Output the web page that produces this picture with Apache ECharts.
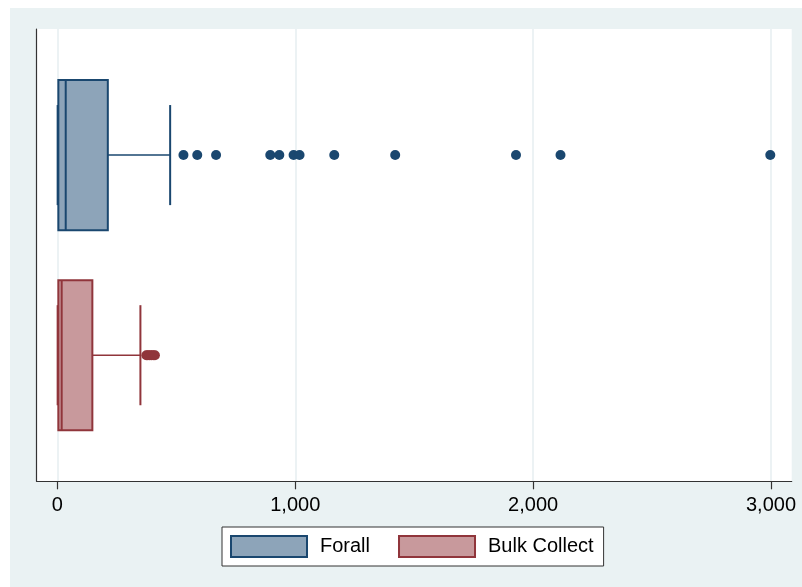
<!DOCTYPE html>
<html>
<head>
<meta charset="utf-8">
<script src="https://cdn.jsdelivr.net/npm/echarts@6/dist/echarts.min.js"></script>
<style>
html,body{margin:0;padding:0;background:#fff;}
#chart{width:802px;height:587px;}
</style>
</head>
<body>
<div id="chart"></div>
<script>
// ---- data ----
const groups = ['Forall', 'Bulk Collect'];
// [lower adjacent, q1, median, q3, upper adjacent]
const forallStats = [0, 4, 35, 212, 474];
const bulkStats = [0, 4, 18, 147, 349];
const forallOutliers = [530, 588, 667, 895, 933, 993, 1018, 1164, 1420, 1928, 2115, 2997];
const bulkOutliers = [374, 380, 388, 395, 403, 410];
const xTicks = [0, 1000, 2000, 3000];

const navy = '#1a476f', navyFill = '#8da4b9';
const maroon = '#90353b', maroonFill = '#c8999c';
const FONT = '"Liberation Sans", Arial, sans-serif';

const chart = echarts.init(document.getElementById('chart'));

function boxRender(stroke, fill) {
  return function (params, api) {
    const y = api.value(0);
    const mn = api.value(1), q1 = api.value(2), md = api.value(3), q3 = api.value(4), mx = api.value(5);
    const hb = 0.375, hc = 0.25;
    const a = api.coord([q1, y - hb]), b = api.coord([q3, y + hb]);
    const top = Math.min(a[1], b[1]), bot = Math.max(a[1], b[1]);
    const cy = api.coord([0, y])[1];
    const capTop = Math.min(api.coord([0, y - hc])[1], api.coord([0, y + hc])[1]);
    const capBot = Math.max(api.coord([0, y - hc])[1], api.coord([0, y + hc])[1]);
    const xmn = api.coord([mn, y])[0], xmx = api.coord([mx, y])[0], xmd = api.coord([md, y])[0];
    const lineStyle = (w) => ({ stroke: stroke, lineWidth: w, fill: null });
    return {
      type: 'group',
      children: [
        { type: 'line', shape: { x1: b[0], y1: cy, x2: xmx, y2: cy }, style: lineStyle(1.5) },
        { type: 'line', shape: { x1: xmn, y1: cy, x2: a[0], y2: cy }, style: lineStyle(1.5) },
        { type: 'line', shape: { x1: xmx, y1: capTop, x2: xmx, y2: capBot }, style: lineStyle(2) },
        { type: 'line', shape: { x1: xmn, y1: capTop, x2: xmn, y2: capBot }, style: lineStyle(1.5) },
        { type: 'rect', shape: { x: a[0], y: top, width: b[0] - a[0], height: bot - top },
          style: { fill: fill, stroke: stroke, lineWidth: 2 } },
        { type: 'line', shape: { x1: xmd, y1: top, x2: xmd, y2: bot }, style: lineStyle(2) }
      ]
    };
  };
}

chart.setOption({
  animation: false,
  backgroundColor: '#fff',
  graphic: [{
    type: 'rect', z: -10, silent: true,
    shape: { x: 10, y: 8, width: 792, height: 579 },
    style: { fill: '#eaf2f3' }
  }],
  grid: {
    left: 36.7, top: 29, right: 10.3, bottom: 105.7,
    show: true, backgroundColor: '#fff', borderWidth: 0
  },
  xAxis: {
    type: 'value', min: -87, max: 3087,
    axisLine: { show: true, onZero: false, lineStyle: { color: '#333', width: 1.2 } },
    axisTick: { show: true, length: 8, lineStyle: { color: '#333', width: 1.2 }, customValues: xTicks },
    axisLabel: {
      customValues: xTicks, margin: 14, fontSize: 20, color: '#000', fontFamily: FONT,
      formatter: (v) => v.toLocaleString('en-US')
    },
    splitLine: { show: true, lineStyle: { color: '#e8eff2', width: 1.6 } }
  },
  yAxis: {
    type: 'value', min: 0.37, max: 2.63, inverse: true,
    axisLine: { show: true, onZero: false, lineStyle: { color: '#333', width: 1.2 } },
    axisTick: { show: false }, axisLabel: { show: false }, splitLine: { show: false }
  },
  legend: {
    left: 222, top: 527,
    orient: 'horizontal',
    padding: [8, 10, 8, 8],
    itemGap: 28,
    itemWidth: 76, itemHeight: 21,
    borderColor: '#333', borderWidth: 1, borderRadius: 0,
    backgroundColor: '#fff',
    textStyle: { fontSize: 20, color: '#000', fontFamily: FONT, padding: [0, 0, 0, 8] },
    data: [
      { name: groups[0], icon: 'rect', itemStyle: { color: navyFill, borderColor: navy, borderWidth: 2 } },
      { name: groups[1], icon: 'rect', itemStyle: { color: maroonFill, borderColor: maroon, borderWidth: 2 } }
    ],
    selectedMode: false
  },
  series: [
    {
      name: groups[0], type: 'custom',
      renderItem: boxRender(navy, navyFill),
      encode: { x: [1, 2, 3, 4, 5], y: 0 },
      itemStyle: { color: navyFill, borderColor: navy },
      data: [[1].concat(forallStats)]
    },
    {
      name: groups[1], type: 'custom',
      renderItem: boxRender(maroon, maroonFill),
      encode: { x: [1, 2, 3, 4, 5], y: 0 },
      itemStyle: { color: maroonFill, borderColor: maroon },
      data: [[2].concat(bulkStats)]
    },
    {
      name: groups[0], type: 'scatter', symbolSize: 10,
      itemStyle: { color: navy, opacity: 1 },
      data: forallOutliers.map(v => [v, 1])
    },
    {
      name: groups[1], type: 'scatter', symbolSize: 10,
      itemStyle: { color: maroon, opacity: 1 },
      data: bulkOutliers.map(v => [v, 2])
    }
  ]
});
</script>
</body>
</html>
